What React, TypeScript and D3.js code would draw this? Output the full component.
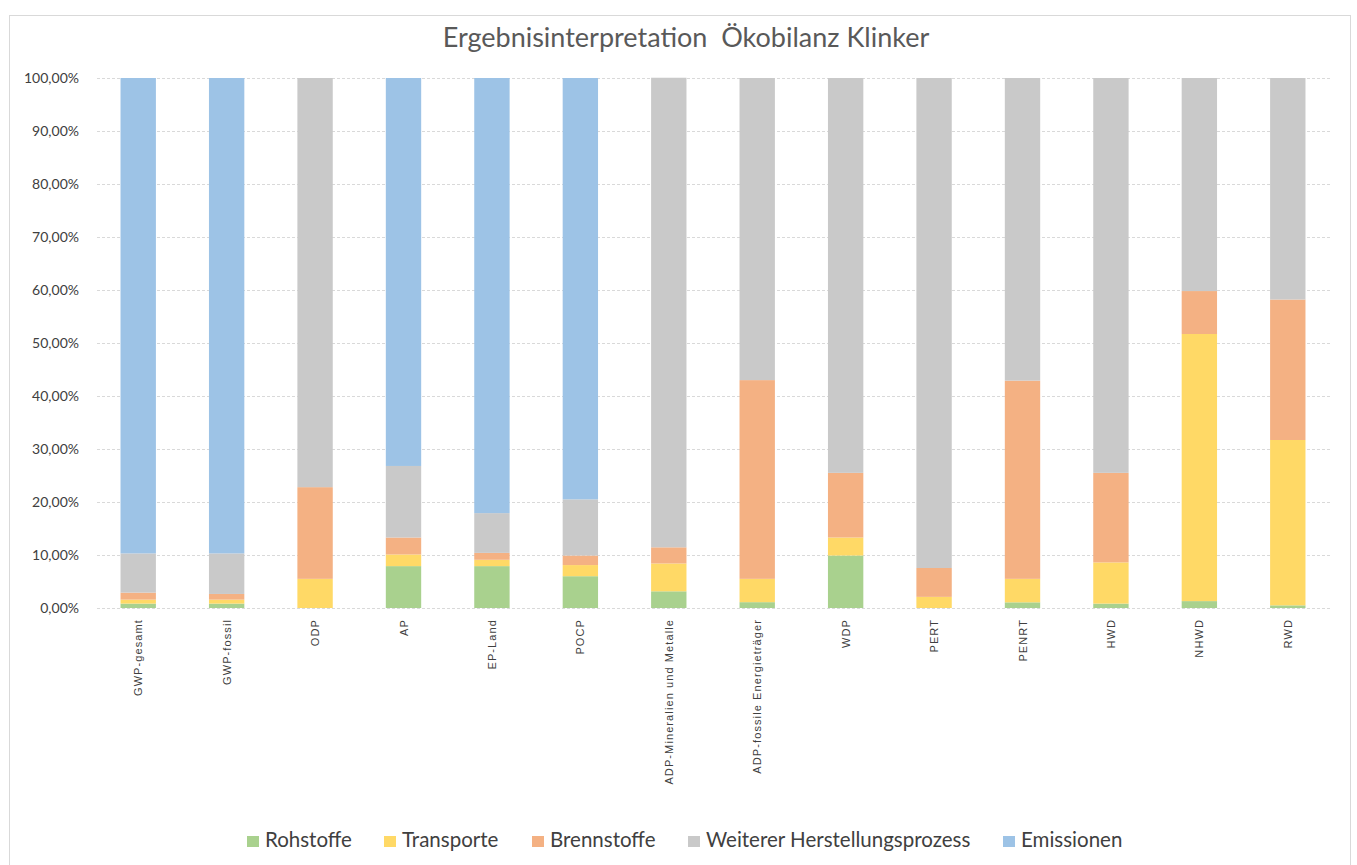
import React from 'react'
import * as d3 from 'd3'

// Ergebnisinterpretation Ökobilanz Klinker - 100% gestapelte Säulen

const categories = [
  'GWP-gesamt', 'GWP-fossil', 'ODP', 'AP', 'EP-Land', 'POCP',
  'ADP-Mineralien und Metalle', 'ADP-fossile Energieträger',
  'WDP', 'PERT', 'PENRT', 'HWD', 'NHWD', 'RWD',
]

const seriesNames = ['Rohstoffe', 'Transporte', 'Brennstoffe', 'Weiterer Herstellungsprozess', 'Emissionen']

// Anteile in %
const rohstoffe = [0.83, 0.83, 0, 7.9, 7.9, 6.0, 3.15, 1.1, 9.9, 0, 1.07, 0.83, 1.3, 0.5]
const transporte = [0.75, 0.75, 5.5, 2.2, 1.2, 2.1, 5.25, 4.4, 3.4, 2.1, 4.43, 7.77, 50.4, 31.2]
const brennstoffe = [1.32, 1.07, 17.3, 3.2, 1.3, 1.8, 3.05, 37.5, 12.2, 5.45, 37.4, 16.9, 8.1, 26.5]
const weitererProzess = [7.4, 7.65, 77.2, 13.5, 7.5, 10.6, 88.6, 57.0, 74.5, 92.45, 57.1, 74.5, 40.2, 41.8]
const emissionen = [89.7, 89.7, 0, 73.2, 82.1, 79.5, 0, 0, 0, 0, 0, 0, 0, 0]

const yTicks = [0, 10, 20, 30, 40, 50, 60, 70, 80, 90, 100]

const colors = ['#A9D18E', '#FFD966', '#F4B183', '#C9C9C9', '#9DC3E6']

export default function App() {
  const width = 1357
  const height = 865
  const left = 94
  const right = 1332
  const top = 78
  const bottom = 608

  const seriesValues = [rohstoffe, transporte, brennstoffe, weitererProzess, emissionen]
  const rows = categories.map((c, i) => {
    const r: any = { cat: c }
    seriesNames.forEach((s, j) => { r[s] = seriesValues[j][i] })
    return r
  })

  const stacked = d3.stack<any>().keys(seriesNames)(rows)

  const x = d3.scaleBand().domain(categories).range([left, right]).paddingInner(0.6).paddingOuter(0.3)
  const y = d3.scaleLinear().domain([0, 100]).range([bottom, top])

  const fmt = (v: number) => d3.format('.2f')(v).replace('.', ',') + '%'

  // legend squares x
  const legendX = [247, 384, 532, 688, 1003]

  return (
    <svg width={width} height={height} style={{ position: 'absolute', left: 0, top: 0 }}>
      <rect x={0} y={0} width={width} height={height} fill="#fff" />
      <rect x={9.5} y={15.5} width={1341} height={870} fill="none" stroke="#D9D9D9" />

      <text x={686} y={47} textAnchor="middle" fontFamily="Lato" fontSize={27} fill="#595959" style={{ whiteSpace: 'pre' }}>
        {'Ergebnisinterpretation  Ökobilanz Klinker'}
      </text>

      {yTicks.map(t => (
        <g key={t}>
          <line x1={left + 3} x2={right} y1={y(t) + 0.5} y2={y(t) + 0.5} stroke="#D9D9D9" strokeWidth={1} strokeDasharray="3,2" />
          <text x={79} y={y(t) + 5} textAnchor="end" fontFamily="Lato" fontSize={14} fill="#404040">
            {fmt(t)}
          </text>
        </g>
      ))}

      {stacked.map((s, j) => (
        <g key={s.key} fill={colors[j]}>
          {s.map((d, i) => (
            d[1] - d[0] > 0 ? (
              <rect key={i} x={x(categories[i])} width={x.bandwidth()} y={y(d[1])} height={y(d[0]) - y(d[1])} />
            ) : null
          ))}
        </g>
      ))}

      {categories.map(c => {
        const cx = (x(c) as number) + x.bandwidth() / 2
        return (
          <text key={c} transform={`translate(${cx + 4},619) rotate(-90)`} textAnchor="end"
            fontFamily="Liberation Sans" fontSize={11} letterSpacing={1.1} fill="#404040">
            {c}
          </text>
        )
      })}

      {seriesNames.map((s, j) => (
        <g key={s}>
          <rect x={legendX[j]} y={836} width={12} height={11} fill={colors[j]} />
          <text x={legendX[j] + 18} y={847} fontFamily="Lato" fontSize={20.5} fill="#404040">{s}</text>
        </g>
      ))}
    </svg>
  )
}
